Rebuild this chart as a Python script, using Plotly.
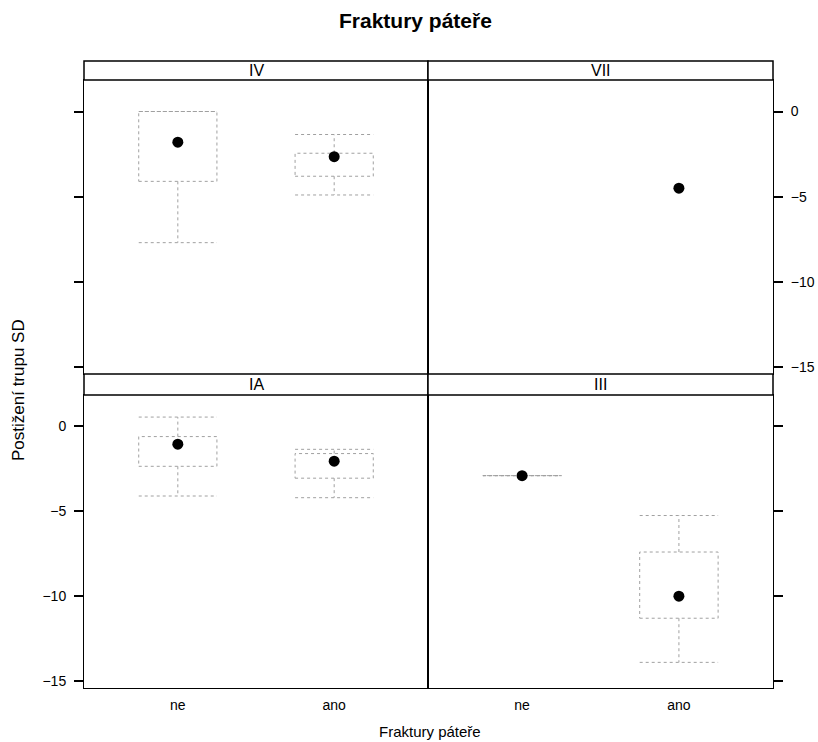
import plotly.graph_objects as go

# Conditioning panels (lattice-style layout) and the fracture groups on the x axis
panel_order = ["IA", "III", "IV", "VII"]   # bottom-left, bottom-right, top-left, top-right
fracture_levels = ["ne", "ano"]

# Five-number summaries per (panel, fracture) group
group_panel = ["IV", "IV", "VII", "IA", "IA", "III", "III"]
group_fracture = ["ne", "ano", "ano", "ne", "ano", "ne", "ano"]
whisker_low = [-7.7, -4.9, None, -4.1, -4.2, -2.9, -13.9]
box_q1 = [-4.1, -3.8, None, -2.35, -3.05, -2.9, -11.3]
box_median = [-1.8, -2.65, -4.5, -1.05, -2.05, -2.9, -10.0]
box_q3 = [0.0, -2.45, None, -0.6, -1.6, -2.9, -7.4]
whisker_high = [0.0, -1.35, None, 0.55, -1.35, -2.9, -5.25]

y_ticks = [0, -5, -10, -15]
y_range = [-15.41, 1.85]
x_range = [0.4, 2.6]
half_width = 0.25

axis_suffix = {"IA": "", "III": "2", "IV": "3", "VII": "4"}

W, H = 818, 742
M_L, M_R, M_T, M_B = 84, 45, 61, 54
plot_w = W - M_L - M_R
plot_h = H - M_T - M_B

def yp(py):
    return (H - M_B - py) / plot_h

def xp(px):
    return (px - M_L) / plot_w

split = xp(428)
bottom_dom = [0, yp(395)]
bottom_strip = [yp(395), yp(374)]
top_dom = [yp(374), yp(80)]
top_strip = [yp(80), 1.0]

fig = go.Figure()

box_color = "#a0a0a0"
for i in range(len(group_panel)):
    suf = axis_suffix[group_panel[i]]
    xa, ya = "x" + suf, "y" + suf
    c = fracture_levels.index(group_fracture[i]) + 1
    if box_q1[i] is not None:
        l, r = c - half_width, c + half_width
        xs = [l, r, r, l, l, None,
              c, c, None, l, r, None,
              c, c, None, l, r]
        ys = [box_q1[i], box_q1[i], box_q3[i], box_q3[i], box_q1[i], None,
              box_q3[i], whisker_high[i], None, whisker_high[i], whisker_high[i], None,
              box_q1[i], whisker_low[i], None, whisker_low[i], whisker_low[i]]
        fig.add_trace(go.Scatter(
            x=xs, y=ys, mode="lines", xaxis=xa, yaxis=ya,
            line=dict(color=box_color, width=1, dash="dot"),
            hoverinfo="skip", showlegend=False))
    fig.add_trace(go.Scatter(
        x=[c], y=[box_median[i]], mode="markers", xaxis=xa, yaxis=ya,
        marker=dict(color="black", size=11), showlegend=False))

font_family = "Liberation Sans, Arial, sans-serif"
axis_font = dict(family=font_family, size=14, color="black")
line_common = dict(showline=True, mirror=True, linecolor="black", linewidth=1,
                   showgrid=False, zeroline=False, automargin=False)

layout_axes = {}
# x axes
for name, dom, anchor, labels in [
        ("xaxis", [0, split], "y", True),
        ("xaxis2", [split, 1], "y2", True),
        ("xaxis3", [0, split], "y3", False),
        ("xaxis4", [split, 1], "y4", False)]:
    layout_axes[name] = dict(domain=dom, anchor=anchor, range=x_range,
                             tickvals=[1, 2], ticktext=fracture_levels,
                             showticklabels=labels, ticks="", tickfont=axis_font,
                             ticklabelstandoff=4, **line_common)
# y axes
for name, dom, anchor, side, labels in [
        ("yaxis", bottom_dom, "x", "left", True),
        ("yaxis2", bottom_dom, "x2", "right", False),
        ("yaxis3", top_dom, "x3", "left", False),
        ("yaxis4", top_dom, "x4", "right", True)]:
    layout_axes[name] = dict(domain=dom, anchor=anchor, side=side, range=y_range,
                             tickvals=y_ticks, ticks="outside", ticklen=9,
                             tickwidth=1.5, tickcolor="black",
                             ticklabelstandoff=5,
                             showticklabels=labels, tickfont=axis_font, **line_common)

shapes = []
annotations = []
strip_font = dict(family=font_family, size=16, color="black")
for label, xdom, ydom in [
        ("IA", [0, split], bottom_strip),
        ("III", [split, 1], bottom_strip),
        ("IV", [0, split], top_strip),
        ("VII", [split, 1], top_strip)]:
    shapes.append(dict(type="rect", xref="paper", yref="paper",
                       x0=xdom[0], x1=xdom[1], y0=ydom[0], y1=ydom[1],
                       line=dict(color="black", width=1.5), fillcolor="white"))
    annotations.append(dict(text=label, xref="paper", yref="paper",
                            x=(xdom[0] + xdom[1]) / 2, y=(ydom[0] + ydom[1]) / 2,
                            showarrow=False, font=strip_font,
                            xanchor="center", yanchor="middle"))

annotations.append(dict(text="<b>Fraktury páteře</b>", xref="paper", yref="paper",
                        x=xp(415), y=yp(21), showarrow=False,
                        font=dict(family=font_family, size=21, color="black"),
                        xanchor="center", yanchor="middle"))
annotations.append(dict(text="Fraktury páteře", xref="paper", yref="paper",
                        x=xp(430), y=yp(731), showarrow=False,
                        font=dict(family=font_family, size=15, color="black"),
                        xanchor="center", yanchor="middle"))
annotations.append(dict(text="Postižení trupu SD", xref="paper", yref="paper",
                        x=xp(18), y=yp(390), showarrow=False,
                        textangle=-90,
                        font=dict(family=font_family, size=17, color="black"),
                        xanchor="center", yanchor="middle"))

fig.update_layout(
    width=W, height=H,
    margin=dict(l=M_L, r=M_R, t=M_T, b=M_B, autoexpand=False),
    paper_bgcolor="white", plot_bgcolor="white",
    showlegend=False,
    shapes=shapes, annotations=annotations,
    **layout_axes)

fig.write_html("out.html")
